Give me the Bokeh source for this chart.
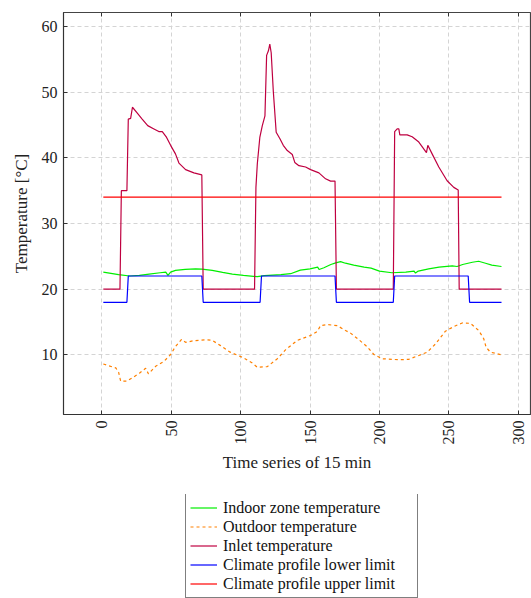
import math
from bokeh.plotting import figure
from bokeh.layouts import column
from bokeh.models import Range1d, LinearAxis, Legend, LegendItem, FixedTicker
from bokeh.embed import file_html
from bokeh.resources import INLINE

# ---- data (x = time step index, y = temperature °C) ----
indoor_x = [1, 12, 20, 27, 34, 42, 46, 47.6, 49.5, 53, 60, 67.5, 72, 79.5, 87, 94, 102, 112, 117,
            129, 136, 143, 150, 155.5, 156.5, 160, 165, 168.5, 172, 175.5, 181.5, 189, 194, 200,
            209, 219, 225, 226, 228, 235.5, 243, 252.5, 256, 260, 267, 271.5, 276.5, 281, 288]
indoor_y = [22.6, 22.2, 22.0, 22.1, 22.3, 22.5, 22.6, 22.1, 22.6, 22.85, 23.0, 23.1, 23.05, 22.85,
            22.55, 22.3, 22.1, 21.9, 22.05, 22.2, 22.35, 22.9, 23.1, 23.35, 23.0, 23.25, 23.75,
            24.0, 24.2, 23.95, 23.65, 23.35, 23.2, 22.75, 22.5, 22.6, 22.75, 22.45, 22.75, 23.1,
            23.35, 23.55, 23.45, 23.75, 24.1, 24.25, 23.95, 23.65, 23.45]

outdoor_x = [1, 10, 12, 13.5, 18, 22, 27, 31.5, 33.5, 38.7, 44.7, 49.5, 53, 57.4, 60.3, 66.3,
             74.7, 79.5, 85.5, 92, 102, 108.4, 112, 119.2, 126.4, 132.3, 140.8, 150.4, 155.2,
             157.6, 162.4, 169.6, 175.6, 179.2, 185.2, 191, 196, 202, 214, 221, 228.4, 234.4,
             240.4, 247.6, 253.6, 259.7, 265.6, 271.6, 275.2, 276.9, 280, 288]
outdoor_y = [8.6, 8.0, 7.35, 6.0, 6.0, 6.5, 7.2, 7.95, 7.1, 8.25, 9.0, 10.05, 11.25, 12.35, 11.9,
             12.15, 12.3, 12.2, 11.4, 10.45, 9.55, 8.75, 8.1, 8.2, 9.4, 10.75, 12.2, 12.95, 13.55,
             14.45, 14.6, 14.45, 13.7, 13.3, 12.3, 11.25, 10.05, 9.4, 9.25, 9.3, 9.9, 10.4, 11.65,
             13.6, 14.3, 14.85, 14.8, 13.7, 12.45, 11.15, 10.4, 10.0]

inlet_x = [1, 13, 14, 18, 19, 20.7, 22, 25.5, 29, 33, 37.5, 41, 43.5, 46.6, 49.5, 53, 55.5, 60.3,
           66.3, 72, 73, 110, 111, 112, 113.8, 115.6, 117.5, 118.7, 120, 121, 122, 123.5, 125.6,
           128.3, 130.7, 133.6, 137.2, 139, 142, 146.8, 150.4, 156.4, 161.2, 164.8, 168, 169,
           210, 211, 212.8, 214, 214.7, 220, 223.6, 228.4, 233.9, 234.9, 238, 242.8, 248.8,
           253.6, 256.8, 257.5, 288]
inlet_y = [20, 20, 35, 35, 45.9, 46, 47.7, 46.8, 45.9, 44.9, 44.4, 44.0, 44.0, 43.1, 41.9, 40.6,
           39.2, 38.2, 37.7, 37.4, 20, 20, 35.5, 39.1, 43.1, 44.9, 46.4, 55.6, 56.3, 57.3, 56.0,
           50.2, 43.9, 42.9, 41.9, 41.1, 40.5, 39.3, 38.8, 38.6, 38.2, 37.7, 36.8, 36.45, 36.45,
           20, 20, 44.0, 44.4, 44.4, 43.5, 43.5, 43.2, 42.4, 40.8, 41.9, 40.6, 38.6, 36.5, 35.5,
           35.1, 20, 20]

lower_x = [1, 18, 19, 72, 73, 114, 115, 168, 169, 210, 211, 264, 265, 288]
lower_y = [18, 18, 22, 22, 18, 18, 22, 22, 18, 18, 22, 22, 18, 18]

upper_x = [1, 288]
upper_y = [34, 34]

x_ticks = [0, 50, 100, 150, 200, 250, 300]
y_ticks = [10, 20, 30, 40, 50, 60]

labels = ["Indoor zone temperature", "Outdoor temperature", "Inlet temperature",
          "Climate profile lower limit", "Climate profile upper limit"]
colors = ["#00ee00", "#ff8000", "#bf0040", "#0000ff", "#ff0000"]
dashes = ["solid", "3 3", "solid", "solid", "solid"]

FONT = "Liberation Serif"
LW = 1.2

series = [(indoor_x, indoor_y), (outdoor_x, outdoor_y), (inlet_x, inlet_y),
          (lower_x, lower_y), (upper_x, upper_y)]

# ---------------- main chart ----------------
p = figure(width=531, height=494, output_backend="svg", toolbar_location=None,
           x_range=Range1d(-27.7, 308.9), y_range=Range1d(0.91, 62.13),
           min_border_left=63, min_border_right=1, min_border_top=12, min_border_bottom=80)
p.background_fill_color = "white"
p.border_fill_color = "white"
p.outline_line_color = "#444444"
p.outline_line_width = 1.2

for (xs, ys), c, d in zip(series, colors, dashes):
    p.line(xs, ys, line_color=c, line_width=LW, line_dash=d)

for ax in (p.xaxis[0], p.yaxis[0]):
    ax.major_tick_in = 4
    ax.major_tick_out = 0
    ax.minor_tick_in = 0
    ax.minor_tick_out = 0
    ax.axis_line_color = "#333333"
    ax.major_tick_line_color = "#333333"
    ax.major_label_text_font = FONT
    ax.major_label_text_font_size = "16px"
    ax.major_label_text_color = "#222222"
    ax.axis_label_text_font = FONT
    ax.axis_label_text_font_size = "17px"
    ax.axis_label_text_font_style = "normal"
    ax.axis_label_text_color = "#222222"

p.xaxis.ticker = FixedTicker(ticks=x_ticks)
p.yaxis.ticker = FixedTicker(ticks=y_ticks)
p.xaxis.major_label_orientation = math.pi / 2
p.xaxis.major_label_standoff = 6
p.xaxis.axis_label = "Time series of 15 min"
p.xaxis.axis_label_standoff = 5
p.yaxis.axis_label = "Temperature [°C]"
p.yaxis.major_label_standoff = 6
p.yaxis.axis_label_standoff = 8

# inward ticks on the top edge (labels not drawn)
top = LinearAxis(ticker=FixedTicker(ticks=x_ticks), major_tick_in=4, major_tick_out=0,
                 minor_tick_in=0, minor_tick_out=0, major_label_text_font_size="1px",
                 major_label_text_color=None, major_label_standoff=0,
                 axis_line_color=None, major_tick_line_color="#333333")
p.add_layout(top, "above")

p.xgrid.ticker = FixedTicker(ticks=x_ticks)
p.ygrid.ticker = FixedTicker(ticks=y_ticks)
for g in (p.xgrid[0], p.ygrid[0]):
    g.grid_line_color = "#d4d4d4"
    g.grid_line_dash = "4 3"
    g.grid_line_width = 1

# ---------------- legend strip below the chart ----------------
# (the series are drawn here too, but outside this strip's visible ranges, so only
#  the legend shows)
lg = figure(width=531, height=104, output_backend="svg", toolbar_location=None,
            x_range=Range1d(-1000, -999), y_range=Range1d(-1000, -999),
            min_border_left=63, min_border_right=1, min_border_top=0, min_border_bottom=0)
lg.axis.visible = False
lg.grid.visible = False
lg.outline_line_color = None
lg.background_fill_color = "white"
lg.border_fill_color = "white"

items = []
for lab, (xs, ys), c, d in zip(labels, series, colors, dashes):
    r = lg.line(xs, ys, line_color=c, line_width=LW, line_dash=d)
    items.append(LegendItem(label=lab, renderers=[r]))

legend = Legend(items=items, location=(122, 0), orientation="vertical",
                label_text_font=FONT, label_text_font_size="16px", label_text_color="#111111",
                glyph_width=27, glyph_height=19, label_height=19, label_width=190,
                spacing=0, padding=4, margin=0, label_standoff=6,
                border_line_color="black", border_line_width=1,
                background_fill_color="white", background_fill_alpha=1)
lg.add_layout(legend, "center")

layout = column(p, lg, spacing=0)
open("out.html", "w").write(file_html(layout, INLINE))
